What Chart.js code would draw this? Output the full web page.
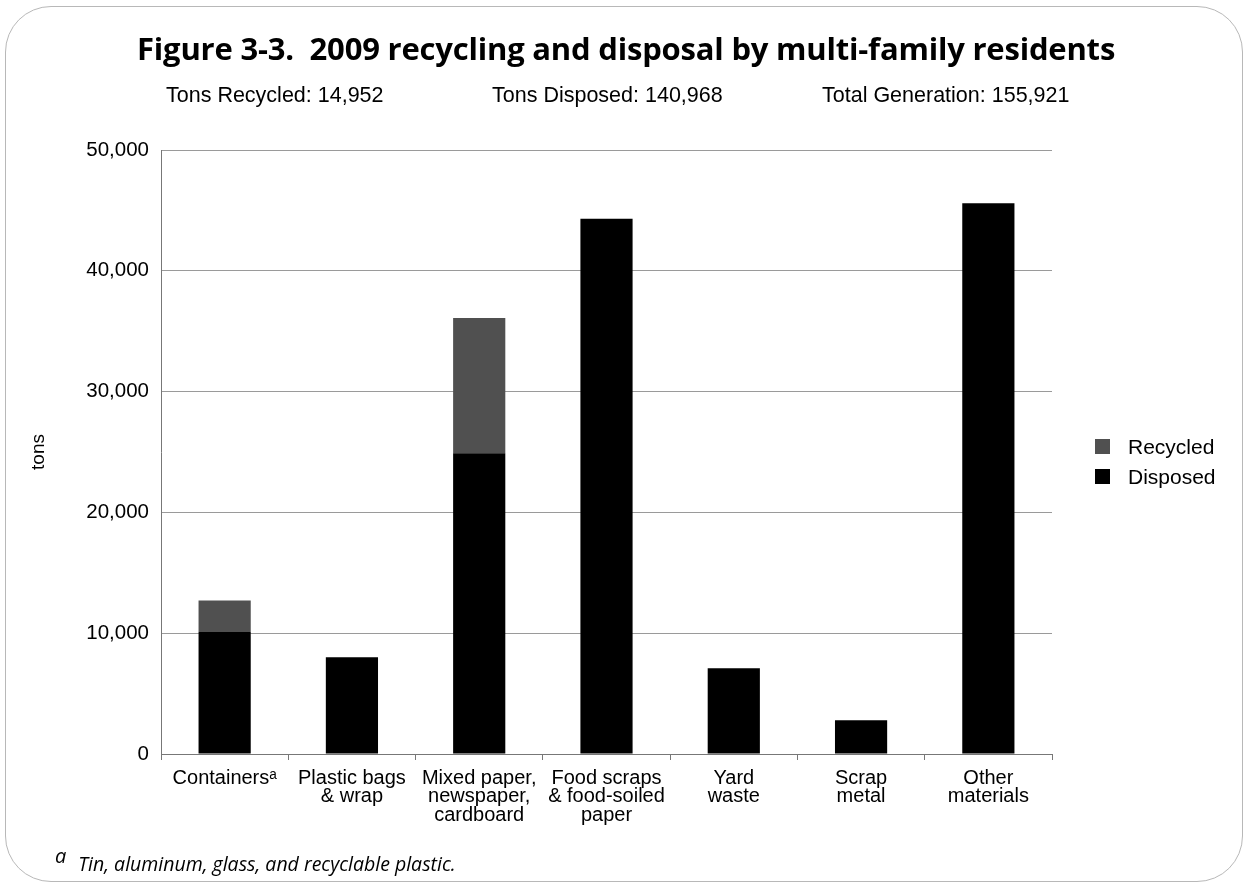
<!DOCTYPE html>
<html>
<head>
<meta charset="utf-8">
<script src="https://cdn.jsdelivr.net/npm/chart.js@4"></script>
<style>
  html, body { margin: 0; padding: 0; background: #fff; }
  #wrap { position: relative; width: 1250px; height: 888px; overflow: hidden; }
  #frame { position: absolute; left: 5px; top: 6px; width: 1238px; height: 876px;
           border: 1px solid #b8b8b8; border-radius: 46px; box-sizing: border-box; }
  #chart { position: absolute; left: 0; top: 0; }
  .txt { position: absolute; white-space: nowrap; color: #000; }
  #title { left: 137px; width: 976px; top: 27px; text-align: center;
           font: 700 31px "Open Sans", sans-serif; letter-spacing: -0.2px; }
  .sub { top: 83px; font: 21.5px "Liberation Sans", Arial, sans-serif; }
  .leg { left: 1095px; font: 21px "Liberation Sans", Arial, sans-serif; }
  .leg span { display: inline-block; width: 15px; height: 15px; margin-right: 18px; vertical-align: 0px; }
  #note { left: 55px; top: 842px; font: italic 19.5px "Open Sans", sans-serif; }
  #note sup { font-size: 20px; margin-right: 12px; vertical-align: 8px; }
</style>
</head>
<body>
<div id="wrap">
  <div id="frame"></div>
  <canvas id="chart" width="1250" height="888"></canvas>
  <div class="txt" id="title">Figure 3-3.&nbsp; 2009 recycling and disposal by multi-family residents</div>
  <div class="txt sub" style="left:166px">Tons Recycled: 14,952</div>
  <div class="txt sub" style="left:492px">Tons Disposed: 140,968</div>
  <div class="txt sub" style="left:822px">Total Generation: 155,921</div>
  <div class="txt leg" style="top:435px"><span style="background:#505050"></span>Recycled</div>
  <div class="txt leg" style="top:465px"><span style="background:#000"></span>Disposed</div>
  <div class="txt" id="note"><sup>a</sup>Tin, aluminum, glass, and recyclable plastic.</div>
</div>
<script>
// tons by material
const categories = [
  "Containersᵃ",
  ["Plastic bags", "& wrap"],
  ["Mixed paper,", "newspaper,", "cardboard"],
  ["Food scraps", "& food-soiled", "paper"],
  ["Yard", "waste"],
  ["Scrap", "metal"],
  ["Other", "materials"]
];
const disposed = [10100, 8000, 24900, 44300, 7100, 2800, 45600];
const recycled = [2600, 0, 11200, 0, 0, 0, 0];
const yTicks = [0, 10000, 20000, 30000, 40000, 50000];

Chart.defaults.font.family = '"Liberation Sans", Arial, sans-serif';
Chart.defaults.font.size = 19;
Chart.defaults.color = '#000';

const ctx = document.getElementById('chart').getContext('2d');
new Chart(ctx, {
  type: 'bar',
  data: {
    labels: categories,
    datasets: [
      { label: 'Disposed', data: disposed, backgroundColor: '#000',
        barPercentage: 0.41, categoryPercentage: 1 },
      { label: 'Recycled', data: recycled, backgroundColor: '#505050',
        barPercentage: 0.41, categoryPercentage: 1 }
    ]
  },
  options: {
    responsive: false,
    animation: false,
    devicePixelRatio: 1,
    layout: { padding: { left: 0, top: 150, right: 198, bottom: 0 } },
    plugins: { legend: { display: false }, tooltip: { enabled: false } },
    scales: {
      x: {
        stacked: true,
        afterFit: (s) => { s.height = 134; },
        grid: { display: true, drawOnChartArea: false, offset: true, tickLength: 6, color: '#777' },
        border: { color: '#777' },
        ticks: { padding: 9, maxRotation: 0, autoSkip: false, font: { size: 20, lineHeight: 0.93 } }
      },
      y: {
        stacked: true,
        min: 0,
        max: 50000,
        afterFit: (s) => { s.width = 161; },
        afterBuildTicks: (s) => { s.ticks = yTicks.map(v => ({ value: v })); },
        grid: { color: '#9a9a9a', drawTicks: false },
        border: { color: '#777' },
        ticks: { padding: 12, font: { size: 20.5 }, callback: (v) => v.toLocaleString('en-US') },
        title: { display: true, text: 'tons', padding: { top: 27, bottom: 0 }, font: { size: 19 } }
      }
    }
  }
});
</script>
</body>
</html>
